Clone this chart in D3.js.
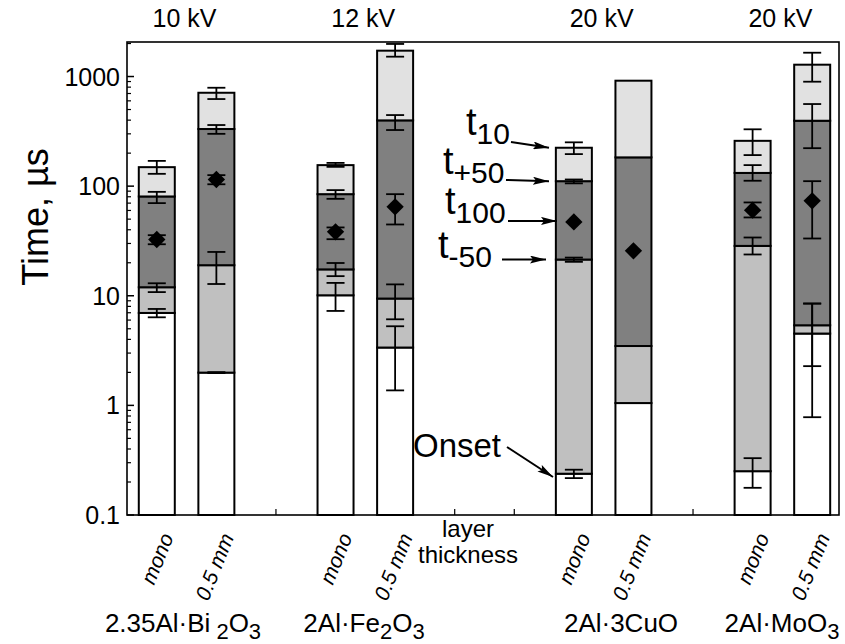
<!DOCTYPE html>
<html>
<head>
<meta charset="utf-8">
<script src="https://cdn.jsdelivr.net/npm/d3@7"></script>
<style>
  html, body { margin: 0; padding: 0; background: #fff; }
  svg { display: block; font-family: "Liberation Sans", Arial, Helvetica, sans-serif; }
</style>
</head>
<body>
<svg id="chart" width="845" height="644"></svg>
<script>
// ---------------- data ----------------
const voltages = ["10 kV", "12 kV", "20 kV", "20 kV"];
const compositions = ["2.35Al·Bi|2|O|3", "2Al·Fe|2|O|3", "2Al·3CuO", "2Al·MoO|3"];
const thickness = ["mono", "0.5 mm", "mono", "0.5 mm", "mono", "0.5 mm", "mono", "0.5 mm"];
const barGroup = [0, 0, 1, 1, 2, 2, 3, 3];

// Onset
const onset   = [6.97, 1.99, 10.1, 3.37, 0.238, 1.05, 0.251, 4.52];
const onsetLo = [6.36, 1.97, 7.27, 1.37, 0.217, null, 0.177, 0.78];
const onsetHi = [7.58, 2.01, 13.1, 5.27, 0.259, null, 0.33, 8.49];
// t-50
const tm50   = [11.96, 19.0, 17.4, 9.43, 21.4, 3.48, 28.5, 5.38];
const tm50Lo = [10.8, 12.8, 15.1, 6.1, 20.4, null, 23.8, 2.28];
const tm50Hi = [13.0, 25.1, 19.9, 12.7, 22.3, null, 34, 8.49];
// t100
const t100   = [32.6, 115, 38.3, 64.7, 47.2, 25.7, 60.4, 73.5];
const t100Lo = [29.5, 104, 32.8, 44.7, null, null, 51.8, 33.3];
const t100Hi = [35.7, 126, 42, 84.5, null, null, 71, 111];
// t+50
const tp50   = [80.5, 332, 84.5, 398, 111, 183, 132, 395];
const tp50Lo = [70, 300, 76.6, 325, 106, null, 112, 222];
const tp50Hi = [88.7, 361, 92, 445, 115, null, 155.5, 561];
// t10
const t10   = [149, 711, 155.5, 1721, 224, 916, 259, 1282];
const t10Lo = [129.5, 623, 150, 1517, 196, null, 192, 897];
const t10Hi = [170, 790, 163, 1982, 251, null, 330, 1649];

const yTickValues = [0.1, 1, 10, 100, 1000];
const yTickLabels = ["0.1", "1", "10", "100", "1000"];

// ---------------- layout ----------------
const svg = d3.select("#chart");
const L = 127, R = 839, T = 42, B = 515;
const slotOf = [0, 1, 3, 4, 7, 8, 10, 11];      // bar slots along x
const groupCenterSlot = [0.5, 3.5, 7.5, 10.5];
const x = d3.scaleLinear().domain([-0.5, 11.45]).range([L, R]);
const y = d3.scaleLog().domain([0.1, 2065]).range([B, T]);
const barW = 36, capW = 18;

const colWhite = "#ffffff", colMed = "#c0c0c0", colDark = "#808080", colLight = "#e1e1e1";

// bars
const bars = svg.append("g");
thickness.forEach((t, i) => {
  const cx = x(slotOf[i]);
  const segs = [
    [0.1, onset[i], colWhite],
    [onset[i], tm50[i], colMed],
    [tm50[i], tp50[i], colDark],
    [tp50[i], t10[i], colLight]
  ];
  segs.forEach(([a, b, c]) => {
    bars.append("rect")
      .attr("x", cx - barW / 2).attr("width", barW)
      .attr("y", y(b)).attr("height", y(a) - y(b))
      .attr("fill", c).attr("stroke", "#000").attr("stroke-width", 2);
  });
});

// error bars
const errs = svg.append("g").attr("stroke", "#000").attr("stroke-width", 1.8).attr("fill", "none");
const allLo = [onsetLo, tm50Lo, t100Lo, tp50Lo, t10Lo];
const allHi = [onsetHi, tm50Hi, t100Hi, tp50Hi, t10Hi];
thickness.forEach((t, i) => {
  const cx = x(slotOf[i]);
  allLo.forEach((lo, k) => {
    const a = lo[i], b = allHi[k][i];
    if (a == null || b == null) return;
    errs.append("line").attr("x1", cx).attr("x2", cx).attr("y1", y(a)).attr("y2", y(b));
    errs.append("line").attr("x1", cx - capW / 2).attr("x2", cx + capW / 2).attr("y1", y(a)).attr("y2", y(a));
    errs.append("line").attr("x1", cx - capW / 2).attr("x2", cx + capW / 2).attr("y1", y(b)).attr("y2", y(b));
  });
});

// diamonds (t100)
const sq = d3.symbol().type(d3.symbolSquare).size(150);
svg.append("g").selectAll("path").data(t100).join("path")
  .attr("d", sq)
  .attr("transform", (d, i) => `translate(${x(slotOf[i])},${y(d)}) rotate(45)`)
  .attr("fill", "#000");

// frame
svg.append("rect").attr("x", L).attr("y", T).attr("width", R - L).attr("height", B - T)
  .attr("fill", "none").attr("stroke", "#000").attr("stroke-width", 1.6);

// y axis ticks (inward)
const yAxis = svg.append("g");
const minors = [];
for (let e = -1; e <= 3; e++) for (let m = 2; m <= 9; m++) {
  const v = m * Math.pow(10, e);
  if (v < 2065) minors.push(v);
}
minors.forEach(v => yAxis.append("line").attr("x1", L).attr("x2", L + 4)
  .attr("y1", y(v)).attr("y2", y(v)).attr("stroke", "#000").attr("stroke-width", 1.2));
yTickValues.forEach((v, i) => {
  yAxis.append("line").attr("x1", L).attr("x2", L + 7)
    .attr("y1", y(v)).attr("y2", y(v)).attr("stroke", "#000").attr("stroke-width", 1.5);
  yAxis.append("text").attr("x", L - 7).attr("y", y(v)).attr("dy", "0.36em")
    .attr("text-anchor", "end").attr("font-size", 25).text(yTickLabels[i]);
});
// x small ticks
[2, 5, 6, 9].forEach(s => svg.append("line").attr("x1", x(s)).attr("x2", x(s))
  .attr("y1", B).attr("y2", B - 6).attr("stroke", "#000").attr("stroke-width", 1.2));

// y title
svg.append("text").attr("transform", "translate(48,217) rotate(-90)")
  .attr("text-anchor", "middle").attr("font-size", 36).text("Time, µs");

// top voltage labels
voltages.forEach((v, g) => svg.append("text").attr("x", x(groupCenterSlot[g]) - 2).attr("y", 27)
  .attr("text-anchor", "middle").attr("font-size", 25).text(v));

// rotated thickness labels
thickness.forEach((t, i) => {
  const cx = x(slotOf[i]);
  const dx = t === "mono" ? 17 : 18;
  svg.append("text").attr("transform", `translate(${cx + dx},${t === "mono" ? 537 : 537}) rotate(-68)`)
    .attr("text-anchor", "end").attr("font-size", 21).attr("font-style", "italic").text(t);
});

// layer thickness
svg.append("text").attr("x", 468).attr("y", 537).attr("text-anchor", "middle").attr("font-size", 24).text("layer");
svg.append("text").attr("x", 468).attr("y", 563).attr("text-anchor", "middle").attr("font-size", 24).text("thickness");

// composition labels
const compCenters = [183, 364, 621, 782];
compositions.forEach((c, g) => {
  const parts = c.split("|");
  const t = svg.append("text").attr("x", compCenters[g]).attr("y", 632)
    .attr("text-anchor", "middle").attr("font-size", 26);
  parts.forEach((p, k) => {
    const sub = k % 2 === 1;
    const ts = t.append("tspan").text(p);
    if (sub) ts.attr("font-size", 22).attr("dy", 7);
    else if (k > 0) ts.attr("dy", -7);
    if (g === 0 && k === 1) ts.attr("dx", 6);
  });
});

// annotations
const defs = svg.append("defs");
defs.append("marker").attr("id", "ah").attr("viewBox", "0 0 16 8")
  .attr("refX", 16).attr("refY", 4).attr("markerWidth", 16).attr("markerHeight", 8)
  .attr("markerUnits", "userSpaceOnUse").attr("orient", "auto")
  .append("path").attr("d", "M0,0 L16,4 L0,8 L3,4 Z").attr("fill", "#000");

const annLabels = [
  { main: "t", sub: "10", x: 466, y: 135, ax1: 511, ay1: 142, ax2: 549, ay2: y(t10[4]) },
  { main: "t", sub: "+50", x: 443, y: 174, ax1: 506, ay1: 180, ax2: 549, ay2: y(tp50[4]) },
  { main: "t", sub: "100", x: 445, y: 214, ax1: 508, ay1: y(t100[4]) - 1, ax2: 557, ay2: y(t100[4]) - 1 },
  { main: "t", sub: "-50", x: 438, y: 258, ax1: 502, ay1: y(tm50[4]), ax2: 546, ay2: y(tm50[4]) },
  { main: "Onset", sub: "", x: 413, y: 457, ax1: 507, ay1: 447, ax2: 553, ay2: 477 }
];
annLabels.forEach(a => {
  const t = svg.append("text").attr("x", a.x).attr("y", a.y).attr("font-size", a.sub ? 38 : 33).text(a.main);
  if (a.sub) t.append("tspan").attr("font-size", 30).attr("dy", 9).text(a.sub);
  svg.append("line").attr("x1", a.ax1).attr("y1", a.ay1).attr("x2", a.ax2).attr("y2", a.ay2)
    .attr("stroke", "#000").attr("stroke-width", 2).attr("marker-end", "url(#ah)");
});
</script>
</body>
</html>
